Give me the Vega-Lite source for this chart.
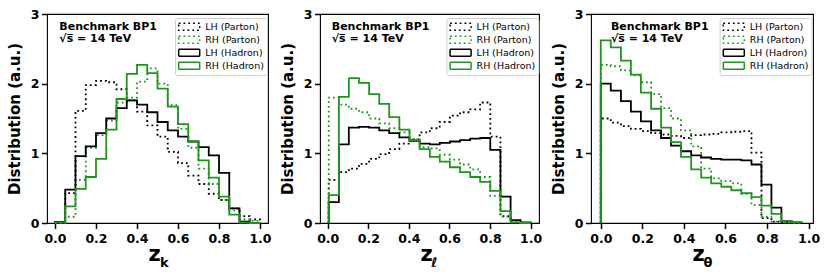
{
"$schema":"https://vega.github.io/schema/vega-lite/v6.json",
"padding":{"left":6,"top":7,"right":0,"bottom":0},
"bounds":"flush",
"spacing":52,
"config":{
 "font":"DejaVu Sans",
 "view":{"stroke":"black","strokeWidth":1.1},
 "axis":{"labelColor":"black","tickColor":"black","titleColor":"black","domain":false,"grid":false,"labelFontWeight":"bold","labelFontSize":12.5,"titleFontWeight":"bold","labelFlush":false,"labelOverlap":false},
 "legend":{"labelFont":"DejaVu Sans","labelFontSize":9.5,"labelColor":"black"}
},
"datasets":{
"k":[
{"s":"LH (Parton)","i":0,"x":0,"y":0},{"s":"LH (Parton)","i":1,"x":0,"y":0.01},{"s":"LH (Parton)","i":2,"x":0.05,"y":0.43},{"s":"LH (Parton)","i":3,"x":0.1,"y":1.61},{"s":"LH (Parton)","i":4,"x":0.15,"y":1.98},{"s":"LH (Parton)","i":5,"x":0.2,"y":2.04},{"s":"LH (Parton)","i":6,"x":0.25,"y":2.02},{"s":"LH (Parton)","i":7,"x":0.3,"y":1.92},{"s":"LH (Parton)","i":8,"x":0.35,"y":1.76},{"s":"LH (Parton)","i":9,"x":0.4,"y":1.6},{"s":"LH (Parton)","i":10,"x":0.45,"y":1.4},{"s":"LH (Parton)","i":11,"x":0.5,"y":1.24},{"s":"LH (Parton)","i":12,"x":0.55,"y":1.02},{"s":"LH (Parton)","i":13,"x":0.6,"y":0.86},{"s":"LH (Parton)","i":14,"x":0.65,"y":0.68},{"s":"LH (Parton)","i":15,"x":0.7,"y":0.56},{"s":"LH (Parton)","i":16,"x":0.75,"y":0.42},{"s":"LH (Parton)","i":17,"x":0.8,"y":0.33},{"s":"LH (Parton)","i":18,"x":0.85,"y":0.21},{"s":"LH (Parton)","i":19,"x":0.9,"y":0.1},{"s":"LH (Parton)","i":20,"x":0.95,"y":0.05},{"s":"LH (Parton)","i":21,"x":1,"y":0},
{"s":"RH (Parton)","i":0,"x":0,"y":0},{"s":"RH (Parton)","i":1,"x":0,"y":0},{"s":"RH (Parton)","i":2,"x":0.05,"y":0.09},{"s":"RH (Parton)","i":3,"x":0.1,"y":0.62},{"s":"RH (Parton)","i":4,"x":0.15,"y":1.08},{"s":"RH (Parton)","i":5,"x":0.2,"y":1.26},{"s":"RH (Parton)","i":6,"x":0.25,"y":1.47},{"s":"RH (Parton)","i":7,"x":0.3,"y":1.73},{"s":"RH (Parton)","i":8,"x":0.35,"y":1.8},{"s":"RH (Parton)","i":9,"x":0.4,"y":2.03},{"s":"RH (Parton)","i":10,"x":0.45,"y":2.22},{"s":"RH (Parton)","i":11,"x":0.5,"y":2.0},{"s":"RH (Parton)","i":12,"x":0.55,"y":1.69},{"s":"RH (Parton)","i":13,"x":0.6,"y":1.35},{"s":"RH (Parton)","i":14,"x":0.65,"y":1.08},{"s":"RH (Parton)","i":15,"x":0.7,"y":0.78},{"s":"RH (Parton)","i":16,"x":0.75,"y":0.56},{"s":"RH (Parton)","i":17,"x":0.8,"y":0.33},{"s":"RH (Parton)","i":18,"x":0.85,"y":0.18},{"s":"RH (Parton)","i":19,"x":0.9,"y":0.05},{"s":"RH (Parton)","i":20,"x":0.95,"y":0.03},{"s":"RH (Parton)","i":21,"x":1,"y":0},
{"s":"LH (Hadron)","i":0,"x":0,"y":0},{"s":"LH (Hadron)","i":1,"x":0,"y":0.015},{"s":"LH (Hadron)","i":2,"x":0.05,"y":0.48},{"s":"LH (Hadron)","i":3,"x":0.1,"y":0.96},{"s":"LH (Hadron)","i":4,"x":0.15,"y":1.1},{"s":"LH (Hadron)","i":5,"x":0.2,"y":1.29},{"s":"LH (Hadron)","i":6,"x":0.25,"y":1.5},{"s":"LH (Hadron)","i":7,"x":0.3,"y":1.65},{"s":"LH (Hadron)","i":8,"x":0.35,"y":1.76},{"s":"LH (Hadron)","i":9,"x":0.4,"y":1.7},{"s":"LH (Hadron)","i":10,"x":0.45,"y":1.59},{"s":"LH (Hadron)","i":11,"x":0.5,"y":1.45},{"s":"LH (Hadron)","i":12,"x":0.55,"y":1.33},{"s":"LH (Hadron)","i":13,"x":0.6,"y":1.24},{"s":"LH (Hadron)","i":14,"x":0.65,"y":1.17},{"s":"LH (Hadron)","i":15,"x":0.7,"y":1.09},{"s":"LH (Hadron)","i":16,"x":0.75,"y":0.97},{"s":"LH (Hadron)","i":17,"x":0.8,"y":0.72},{"s":"LH (Hadron)","i":18,"x":0.85,"y":0.21},{"s":"LH (Hadron)","i":19,"x":0.9,"y":0.02},{"s":"LH (Hadron)","i":20,"x":0.95,"y":0},{"s":"LH (Hadron)","i":21,"x":1,"y":0},
{"s":"RH (Hadron)","i":0,"x":0,"y":0},{"s":"RH (Hadron)","i":1,"x":0,"y":0.01},{"s":"RH (Hadron)","i":2,"x":0.05,"y":0.24},{"s":"RH (Hadron)","i":3,"x":0.1,"y":0.49},{"s":"RH (Hadron)","i":4,"x":0.15,"y":0.66},{"s":"RH (Hadron)","i":5,"x":0.2,"y":0.92},{"s":"RH (Hadron)","i":6,"x":0.25,"y":1.34},{"s":"RH (Hadron)","i":7,"x":0.3,"y":1.78},{"s":"RH (Hadron)","i":8,"x":0.35,"y":2.14},{"s":"RH (Hadron)","i":9,"x":0.4,"y":2.27},{"s":"RH (Hadron)","i":10,"x":0.45,"y":2.15},{"s":"RH (Hadron)","i":11,"x":0.5,"y":1.93},{"s":"RH (Hadron)","i":12,"x":0.55,"y":1.67},{"s":"RH (Hadron)","i":13,"x":0.6,"y":1.42},{"s":"RH (Hadron)","i":14,"x":0.65,"y":1.17},{"s":"RH (Hadron)","i":15,"x":0.7,"y":0.9},{"s":"RH (Hadron)","i":16,"x":0.75,"y":0.65},{"s":"RH (Hadron)","i":17,"x":0.8,"y":0.38},{"s":"RH (Hadron)","i":18,"x":0.85,"y":0.12},{"s":"RH (Hadron)","i":19,"x":0.9,"y":0.005},{"s":"RH (Hadron)","i":20,"x":0.95,"y":0},{"s":"RH (Hadron)","i":21,"x":1,"y":0}
],
"l":[
{"s":"LH (Parton)","i":0,"x":0.005,"y":0},{"s":"LH (Parton)","i":1,"x":0.005,"y":0.62},{"s":"LH (Parton)","i":2,"x":0.055,"y":0.73},{"s":"LH (Parton)","i":3,"x":0.104,"y":0.78},{"s":"LH (Parton)","i":4,"x":0.154,"y":0.85},{"s":"LH (Parton)","i":5,"x":0.204,"y":0.92},{"s":"LH (Parton)","i":6,"x":0.254,"y":0.99},{"s":"LH (Parton)","i":7,"x":0.303,"y":1.06},{"s":"LH (Parton)","i":8,"x":0.353,"y":1.14},{"s":"LH (Parton)","i":9,"x":0.403,"y":1.2},{"s":"LH (Parton)","i":10,"x":0.453,"y":1.3},{"s":"LH (Parton)","i":11,"x":0.503,"y":1.36},{"s":"LH (Parton)","i":12,"x":0.552,"y":1.45},{"s":"LH (Parton)","i":13,"x":0.602,"y":1.54},{"s":"LH (Parton)","i":14,"x":0.652,"y":1.59},{"s":"LH (Parton)","i":15,"x":0.702,"y":1.63},{"s":"LH (Parton)","i":16,"x":0.751,"y":1.73},{"s":"LH (Parton)","i":17,"x":0.801,"y":1.24},{"s":"LH (Parton)","i":18,"x":0.851,"y":0.1},{"s":"LH (Parton)","i":19,"x":0.901,"y":0.01},{"s":"LH (Parton)","i":20,"x":0.95,"y":0},{"s":"LH (Parton)","i":21,"x":1,"y":0},
{"s":"RH (Parton)","i":0,"x":0.005,"y":0},{"s":"RH (Parton)","i":1,"x":0.005,"y":1.8},{"s":"RH (Parton)","i":2,"x":0.055,"y":1.7},{"s":"RH (Parton)","i":3,"x":0.104,"y":1.64},{"s":"RH (Parton)","i":4,"x":0.154,"y":1.59},{"s":"RH (Parton)","i":5,"x":0.204,"y":1.5},{"s":"RH (Parton)","i":6,"x":0.254,"y":1.43},{"s":"RH (Parton)","i":7,"x":0.303,"y":1.36},{"s":"RH (Parton)","i":8,"x":0.353,"y":1.3},{"s":"RH (Parton)","i":9,"x":0.403,"y":1.2},{"s":"RH (Parton)","i":10,"x":0.453,"y":1.09},{"s":"RH (Parton)","i":11,"x":0.503,"y":1.07},{"s":"RH (Parton)","i":12,"x":0.552,"y":0.98},{"s":"RH (Parton)","i":13,"x":0.602,"y":0.91},{"s":"RH (Parton)","i":14,"x":0.652,"y":0.84},{"s":"RH (Parton)","i":15,"x":0.702,"y":0.77},{"s":"RH (Parton)","i":16,"x":0.751,"y":0.66},{"s":"RH (Parton)","i":17,"x":0.801,"y":0.39},{"s":"RH (Parton)","i":18,"x":0.851,"y":0.09},{"s":"RH (Parton)","i":19,"x":0.901,"y":0.01},{"s":"RH (Parton)","i":20,"x":0.95,"y":0},{"s":"RH (Parton)","i":21,"x":1,"y":0},
{"s":"LH (Hadron)","i":0,"x":0.005,"y":0},{"s":"LH (Hadron)","i":1,"x":0.005,"y":0.3},{"s":"LH (Hadron)","i":2,"x":0.055,"y":1.13},{"s":"LH (Hadron)","i":3,"x":0.104,"y":1.37},{"s":"LH (Hadron)","i":4,"x":0.154,"y":1.38},{"s":"LH (Hadron)","i":5,"x":0.204,"y":1.37},{"s":"LH (Hadron)","i":6,"x":0.254,"y":1.33},{"s":"LH (Hadron)","i":7,"x":0.303,"y":1.29},{"s":"LH (Hadron)","i":8,"x":0.353,"y":1.23},{"s":"LH (Hadron)","i":9,"x":0.403,"y":1.18},{"s":"LH (Hadron)","i":10,"x":0.453,"y":1.14},{"s":"LH (Hadron)","i":11,"x":0.503,"y":1.13},{"s":"LH (Hadron)","i":12,"x":0.552,"y":1.15},{"s":"LH (Hadron)","i":13,"x":0.602,"y":1.17},{"s":"LH (Hadron)","i":14,"x":0.652,"y":1.19},{"s":"LH (Hadron)","i":15,"x":0.702,"y":1.21},{"s":"LH (Hadron)","i":16,"x":0.751,"y":1.22},{"s":"LH (Hadron)","i":17,"x":0.801,"y":1.05},{"s":"LH (Hadron)","i":18,"x":0.851,"y":0.38},{"s":"LH (Hadron)","i":19,"x":0.901,"y":0.04},{"s":"LH (Hadron)","i":20,"x":0.95,"y":0.01},{"s":"LH (Hadron)","i":21,"x":1,"y":0},
{"s":"RH (Hadron)","i":0,"x":0.005,"y":0},{"s":"RH (Hadron)","i":1,"x":0.005,"y":0.4},{"s":"RH (Hadron)","i":2,"x":0.055,"y":1.81},{"s":"RH (Hadron)","i":3,"x":0.104,"y":2.08},{"s":"RH (Hadron)","i":4,"x":0.154,"y":2.01},{"s":"RH (Hadron)","i":5,"x":0.204,"y":1.85},{"s":"RH (Hadron)","i":6,"x":0.254,"y":1.71},{"s":"RH (Hadron)","i":7,"x":0.303,"y":1.52},{"s":"RH (Hadron)","i":8,"x":0.353,"y":1.34},{"s":"RH (Hadron)","i":9,"x":0.403,"y":1.19},{"s":"RH (Hadron)","i":10,"x":0.453,"y":1.06},{"s":"RH (Hadron)","i":11,"x":0.503,"y":0.95},{"s":"RH (Hadron)","i":12,"x":0.552,"y":0.88},{"s":"RH (Hadron)","i":13,"x":0.602,"y":0.8},{"s":"RH (Hadron)","i":14,"x":0.652,"y":0.73},{"s":"RH (Hadron)","i":15,"x":0.702,"y":0.66},{"s":"RH (Hadron)","i":16,"x":0.751,"y":0.59},{"s":"RH (Hadron)","i":17,"x":0.801,"y":0.46},{"s":"RH (Hadron)","i":18,"x":0.851,"y":0.17},{"s":"RH (Hadron)","i":19,"x":0.901,"y":0.01},{"s":"RH (Hadron)","i":20,"x":0.95,"y":0},{"s":"RH (Hadron)","i":21,"x":1,"y":0}
],
"t":[
{"s":"LH (Parton)","i":0,"x":0,"y":0},{"s":"LH (Parton)","i":1,"x":0,"y":1.5},{"s":"LH (Parton)","i":2,"x":0.048,"y":1.44},{"s":"LH (Parton)","i":3,"x":0.097,"y":1.39},{"s":"LH (Parton)","i":4,"x":0.145,"y":1.35},{"s":"LH (Parton)","i":5,"x":0.193,"y":1.32},{"s":"LH (Parton)","i":6,"x":0.242,"y":1.29},{"s":"LH (Parton)","i":7,"x":0.29,"y":1.27},{"s":"LH (Parton)","i":8,"x":0.338,"y":1.25},{"s":"LH (Parton)","i":9,"x":0.386,"y":1.22},{"s":"LH (Parton)","i":10,"x":0.435,"y":1.26},{"s":"LH (Parton)","i":11,"x":0.483,"y":1.27},{"s":"LH (Parton)","i":12,"x":0.531,"y":1.28},{"s":"LH (Parton)","i":13,"x":0.58,"y":1.3},{"s":"LH (Parton)","i":14,"x":0.628,"y":1.31},{"s":"LH (Parton)","i":15,"x":0.676,"y":1.32},{"s":"LH (Parton)","i":16,"x":0.725,"y":1.01},{"s":"LH (Parton)","i":17,"x":0.773,"y":0.07},{"s":"LH (Parton)","i":18,"x":0.821,"y":0.02},{"s":"LH (Parton)","i":19,"x":0.869,"y":0.005},{"s":"LH (Parton)","i":20,"x":0.918,"y":0},{"s":"LH (Parton)","i":21,"x":0.966,"y":0},
{"s":"RH (Parton)","i":0,"x":0,"y":0},{"s":"RH (Parton)","i":1,"x":0,"y":2.27},{"s":"RH (Parton)","i":2,"x":0.048,"y":2.25},{"s":"RH (Parton)","i":3,"x":0.097,"y":2.19},{"s":"RH (Parton)","i":4,"x":0.145,"y":2.12},{"s":"RH (Parton)","i":5,"x":0.193,"y":2.02},{"s":"RH (Parton)","i":6,"x":0.242,"y":1.85},{"s":"RH (Parton)","i":7,"x":0.29,"y":1.65},{"s":"RH (Parton)","i":8,"x":0.338,"y":1.5},{"s":"RH (Parton)","i":9,"x":0.386,"y":1.33},{"s":"RH (Parton)","i":10,"x":0.435,"y":1.1},{"s":"RH (Parton)","i":11,"x":0.483,"y":0.78},{"s":"RH (Parton)","i":12,"x":0.531,"y":0.64},{"s":"RH (Parton)","i":13,"x":0.58,"y":0.6},{"s":"RH (Parton)","i":14,"x":0.628,"y":0.57},{"s":"RH (Parton)","i":15,"x":0.676,"y":0.42},{"s":"RH (Parton)","i":16,"x":0.725,"y":0.26},{"s":"RH (Parton)","i":17,"x":0.773,"y":0.09},{"s":"RH (Parton)","i":18,"x":0.821,"y":0.02},{"s":"RH (Parton)","i":19,"x":0.869,"y":0.005},{"s":"RH (Parton)","i":20,"x":0.918,"y":0},{"s":"RH (Parton)","i":21,"x":0.966,"y":0},
{"s":"LH (Hadron)","i":0,"x":0,"y":0},{"s":"LH (Hadron)","i":1,"x":0,"y":2.0},{"s":"LH (Hadron)","i":2,"x":0.048,"y":1.9},{"s":"LH (Hadron)","i":3,"x":0.097,"y":1.75},{"s":"LH (Hadron)","i":4,"x":0.145,"y":1.6},{"s":"LH (Hadron)","i":5,"x":0.193,"y":1.46},{"s":"LH (Hadron)","i":6,"x":0.242,"y":1.33},{"s":"LH (Hadron)","i":7,"x":0.29,"y":1.22},{"s":"LH (Hadron)","i":8,"x":0.338,"y":1.11},{"s":"LH (Hadron)","i":9,"x":0.386,"y":1.03},{"s":"LH (Hadron)","i":10,"x":0.435,"y":0.97},{"s":"LH (Hadron)","i":11,"x":0.483,"y":0.94},{"s":"LH (Hadron)","i":12,"x":0.531,"y":0.92},{"s":"LH (Hadron)","i":13,"x":0.58,"y":0.91},{"s":"LH (Hadron)","i":14,"x":0.628,"y":0.91},{"s":"LH (Hadron)","i":15,"x":0.676,"y":0.9},{"s":"LH (Hadron)","i":16,"x":0.725,"y":0.84},{"s":"LH (Hadron)","i":17,"x":0.773,"y":0.55},{"s":"LH (Hadron)","i":18,"x":0.821,"y":0.22},{"s":"LH (Hadron)","i":19,"x":0.869,"y":0.03},{"s":"LH (Hadron)","i":20,"x":0.918,"y":0.01},{"s":"LH (Hadron)","i":21,"x":0.966,"y":0},
{"s":"RH (Hadron)","i":0,"x":0,"y":0},{"s":"RH (Hadron)","i":1,"x":0,"y":2.62},{"s":"RH (Hadron)","i":2,"x":0.048,"y":2.52},{"s":"RH (Hadron)","i":3,"x":0.097,"y":2.33},{"s":"RH (Hadron)","i":4,"x":0.145,"y":2.13},{"s":"RH (Hadron)","i":5,"x":0.193,"y":1.87},{"s":"RH (Hadron)","i":6,"x":0.242,"y":1.64},{"s":"RH (Hadron)","i":7,"x":0.29,"y":1.37},{"s":"RH (Hadron)","i":8,"x":0.338,"y":1.16},{"s":"RH (Hadron)","i":9,"x":0.386,"y":0.95},{"s":"RH (Hadron)","i":10,"x":0.435,"y":0.77},{"s":"RH (Hadron)","i":11,"x":0.483,"y":0.65},{"s":"RH (Hadron)","i":12,"x":0.531,"y":0.57},{"s":"RH (Hadron)","i":13,"x":0.58,"y":0.52},{"s":"RH (Hadron)","i":14,"x":0.628,"y":0.47},{"s":"RH (Hadron)","i":15,"x":0.676,"y":0.43},{"s":"RH (Hadron)","i":16,"x":0.725,"y":0.37},{"s":"RH (Hadron)","i":17,"x":0.773,"y":0.25},{"s":"RH (Hadron)","i":18,"x":0.821,"y":0.13},{"s":"RH (Hadron)","i":19,"x":0.869,"y":0.03},{"s":"RH (Hadron)","i":20,"x":0.918,"y":0.01},{"s":"RH (Hadron)","i":21,"x":0.966,"y":0}
]
},
"resolve":{"scale":{"x":"independent","y":"independent","color":"independent","strokeDash":"independent"},"legend":{"color":"independent","strokeDash":"independent"}},
"hconcat":[
{"width":221,"height":209,
 "layer":[
 {"data":{"name":"k"},
  "mark":{"type":"line","interpolate":"step-after","strokeWidth":1.8},
  "encoding":{
   "x":{"field":"x","type":"quantitative","scale":{"domain":[-0.039,1.039],"nice":false,"zero":false},
     "axis":{"title":"z","titleFontSize":21,"titleX":107,"titleY":37.5,"titleBaseline":"alphabetic","titleAlign":"center","titleAngle":0,
      "values":[0,0.05,0.1,0.15,0.2,0.25,0.3,0.35,0.4,0.45,0.5,0.55,0.6,0.65,0.7,0.75,0.8,0.85,0.9,0.95,1],
      "labelExpr":"abs(datum.value*5-round(datum.value*5))<0.000001 ? format(datum.value,'.1f') : ''",
      "tickSize":{"condition":{"test":"abs(datum.value*5-round(datum.value*5))<0.000001","value":5.5},"value":3},
      "tickWidth":{"condition":{"test":"abs(datum.value*5-round(datum.value*5))<0.000001","value":1.5},"value":1},
      "labelPadding":4}},
   "y":{"field":"y","type":"quantitative","scale":{"domain":[0,3],"nice":false,"zero":false},
     "axis":{"title":"Distribution (a.u.)","titleFontSize":15,"titleX":-25,
      "values":[0,0.5,1,1.5,2,2.5,3],
      "labelExpr":"datum.value % 1 == 0 ? format(datum.value,'d') : ''",
      "tickSize":{"condition":{"test":"datum.value % 1 == 0","value":5.5},"value":3},
      "tickWidth":{"condition":{"test":"datum.value % 1 == 0","value":1.5},"value":1},
      "labelPadding":2.5}},
   "color":{"field":"s","type":"nominal","scale":{"domain":["LH (Parton)","RH (Parton)","LH (Hadron)","RH (Hadron)"],"range":["black","#1e961e","black","#1e961e"]},
     "legend":{"title":null,"orient":"none","legendX":128,"legendY":4,"symbolType":"M-1,-0.7H3.2V0.7H-1Z","symbolSize":100,"symbolStrokeWidth":1.5,"labelOffset":15.5,"padding":2.7,"rowPadding":-1,"strokeColor":"#d0d0d0","fillColor":"rgba(255,255,255,0.8)","cornerRadius":2.5,"symbolFillColor":"transparent"}},
   "strokeDash":{"field":"s","type":"nominal","scale":{"domain":["LH (Parton)","RH (Parton)","LH (Hadron)","RH (Hadron)"],"range":[[1.8,3],[1.8,3],[1,0],[1,0]]},
     "legend":{"title":null,"orient":"none","legendX":128,"legendY":4,"symbolType":"M-1,-0.7H3.2V0.7H-1Z","symbolSize":100,"symbolStrokeWidth":1.5,"labelOffset":15.5,"padding":2.7,"rowPadding":-1,"strokeColor":"#d0d0d0","fillColor":"rgba(255,255,255,0.8)","cornerRadius":2.5,"symbolFillColor":"transparent"}},
   "order":{"field":"i","type":"quantitative"}
  }},
 {"data":{"values":[{}]},
  "mark":{"type":"text","text":["Benchmark BP1","√s̅ = 14 TeV"],"align":"left","baseline":"alphabetic","fontSize":11,"fontWeight":"bold","lineHeight":11.5,"color":"black"},
  "encoding":{"x":{"datum":0.021},"y":{"datum":2.77}}},
 {"data":{"values":[{}]},
  "mark":{"type":"text","text":"k","align":"center","baseline":"alphabetic","fontSize":13,"fontWeight":"bold","color":"black"},
  "encoding":{"x":{"datum":0.533},"y":{"datum":-0.627}}}
 ]},
{"width":219,"height":209,
 "layer":[
 {"data":{"name":"l"},
  "mark":{"type":"line","interpolate":"step-after","strokeWidth":1.8},
  "encoding":{
   "x":{"field":"x","type":"quantitative","scale":{"domain":[-0.038,1.041],"nice":false,"zero":false},
     "axis":{"title":"z","titleFontSize":21,"titleX":106,"titleY":37.5,"titleBaseline":"alphabetic","titleAlign":"center","titleAngle":0,
      "values":[0,0.05,0.1,0.15,0.2,0.25,0.3,0.35,0.4,0.45,0.5,0.55,0.6,0.65,0.7,0.75,0.8,0.85,0.9,0.95,1],
      "labelExpr":"abs(datum.value*5-round(datum.value*5))<0.000001 ? format(datum.value,'.1f') : ''",
      "tickSize":{"condition":{"test":"abs(datum.value*5-round(datum.value*5))<0.000001","value":5.5},"value":3},
      "tickWidth":{"condition":{"test":"abs(datum.value*5-round(datum.value*5))<0.000001","value":1.5},"value":1},
      "labelPadding":4}},
   "y":{"field":"y","type":"quantitative","scale":{"domain":[0,3],"nice":false,"zero":false},
     "axis":{"title":"Distribution (a.u.)","titleFontSize":15,"titleX":-25,
      "values":[0,0.5,1,1.5,2,2.5,3],
      "labelExpr":"datum.value % 1 == 0 ? format(datum.value,'d') : ''",
      "tickSize":{"condition":{"test":"datum.value % 1 == 0","value":5.5},"value":3},
      "tickWidth":{"condition":{"test":"datum.value % 1 == 0","value":1.5},"value":1},
      "labelPadding":2.5}},
   "color":{"field":"s","type":"nominal","scale":{"domain":["LH (Parton)","RH (Parton)","LH (Hadron)","RH (Hadron)"],"range":["black","#1e961e","black","#1e961e"]},
     "legend":{"title":null,"orient":"none","legendX":126.4,"legendY":4,"symbolType":"M-1,-0.7H3.2V0.7H-1Z","symbolSize":100,"symbolStrokeWidth":1.5,"labelOffset":15.5,"padding":2.7,"rowPadding":-1,"strokeColor":"#d0d0d0","fillColor":"rgba(255,255,255,0.8)","cornerRadius":2.5,"symbolFillColor":"transparent"}},
   "strokeDash":{"field":"s","type":"nominal","scale":{"domain":["LH (Parton)","RH (Parton)","LH (Hadron)","RH (Hadron)"],"range":[[1.8,3],[1.8,3],[1,0],[1,0]]},
     "legend":{"title":null,"orient":"none","legendX":126.4,"legendY":4,"symbolType":"M-1,-0.7H3.2V0.7H-1Z","symbolSize":100,"symbolStrokeWidth":1.5,"labelOffset":15.5,"padding":2.7,"rowPadding":-1,"strokeColor":"#d0d0d0","fillColor":"rgba(255,255,255,0.8)","cornerRadius":2.5,"symbolFillColor":"transparent"}},
   "order":{"field":"i","type":"quantitative"}
  }},
 {"data":{"values":[{}]},
  "mark":{"type":"text","text":["Benchmark BP1","√s̅ = 14 TeV"],"align":"left","baseline":"alphabetic","fontSize":11,"fontWeight":"bold","lineHeight":11.5,"color":"black"},
  "encoding":{"x":{"datum":0.02},"y":{"datum":2.77}}},
 {"data":{"values":[{}]},
  "mark":{"type":"text","text":"ℓ","align":"center","baseline":"alphabetic","fontSize":13,"fontWeight":"bold","color":"black"},
  "encoding":{"x":{"datum":0.525},"y":{"datum":-0.627}}}
 ]},
{"width":222,"height":209,
 "layer":[
 {"data":{"name":"t"},
  "mark":{"type":"line","interpolate":"step-after","strokeWidth":1.8},
  "encoding":{
   "x":{"field":"x","type":"quantitative","scale":{"domain":[-0.047,1.021],"nice":false,"zero":false},
     "axis":{"title":"z","titleFontSize":21,"titleX":107,"titleY":37.5,"titleBaseline":"alphabetic","titleAlign":"center","titleAngle":0,
      "values":[0,0.05,0.1,0.15,0.2,0.25,0.3,0.35,0.4,0.45,0.5,0.55,0.6,0.65,0.7,0.75,0.8,0.85,0.9,0.95,1],
      "labelExpr":"abs(datum.value*5-round(datum.value*5))<0.000001 ? format(datum.value,'.1f') : ''",
      "tickSize":{"condition":{"test":"abs(datum.value*5-round(datum.value*5))<0.000001","value":5.5},"value":3},
      "tickWidth":{"condition":{"test":"abs(datum.value*5-round(datum.value*5))<0.000001","value":1.5},"value":1},
      "labelPadding":4}},
   "y":{"field":"y","type":"quantitative","scale":{"domain":[0,3],"nice":false,"zero":false},
     "axis":{"title":"Distribution (a.u.)","titleFontSize":15,"titleX":-25,
      "values":[0,0.5,1,1.5,2,2.5,3],
      "labelExpr":"datum.value % 1 == 0 ? format(datum.value,'d') : ''",
      "tickSize":{"condition":{"test":"datum.value % 1 == 0","value":5.5},"value":3},
      "tickWidth":{"condition":{"test":"datum.value % 1 == 0","value":1.5},"value":1},
      "labelPadding":2.5}},
   "color":{"field":"s","type":"nominal","scale":{"domain":["LH (Parton)","RH (Parton)","LH (Hadron)","RH (Hadron)"],"range":["black","#1e961e","black","#1e961e"]},
     "legend":{"title":null,"orient":"none","legendX":128.6,"legendY":4,"symbolType":"M-1,-0.7H3.2V0.7H-1Z","symbolSize":100,"symbolStrokeWidth":1.5,"labelOffset":15.5,"padding":2.7,"rowPadding":-1,"strokeColor":"#d0d0d0","fillColor":"rgba(255,255,255,0.8)","cornerRadius":2.5,"symbolFillColor":"transparent"}},
   "strokeDash":{"field":"s","type":"nominal","scale":{"domain":["LH (Parton)","RH (Parton)","LH (Hadron)","RH (Hadron)"],"range":[[1.8,3],[1.8,3],[1,0],[1,0]]},
     "legend":{"title":null,"orient":"none","legendX":128.6,"legendY":4,"symbolType":"M-1,-0.7H3.2V0.7H-1Z","symbolSize":100,"symbolStrokeWidth":1.5,"labelOffset":15.5,"padding":2.7,"rowPadding":-1,"strokeColor":"#d0d0d0","fillColor":"rgba(255,255,255,0.8)","cornerRadius":2.5,"symbolFillColor":"transparent"}},
   "order":{"field":"i","type":"quantitative"}
  }},
 {"data":{"values":[{}]},
  "mark":{"type":"text","text":["Benchmark BP1","√s̅ = 14 TeV"],"align":"left","baseline":"alphabetic","fontSize":11,"fontWeight":"bold","lineHeight":11.5,"color":"black"},
  "encoding":{"x":{"datum":0.049},"y":{"datum":2.77}}},
 {"data":{"values":[{}]},
  "mark":{"type":"text","text":"θ","align":"center","baseline":"alphabetic","fontSize":13,"fontWeight":"bold","color":"black"},
  "encoding":{"x":{"datum":0.516},"y":{"datum":-0.627}}}
 ]}
]
}
